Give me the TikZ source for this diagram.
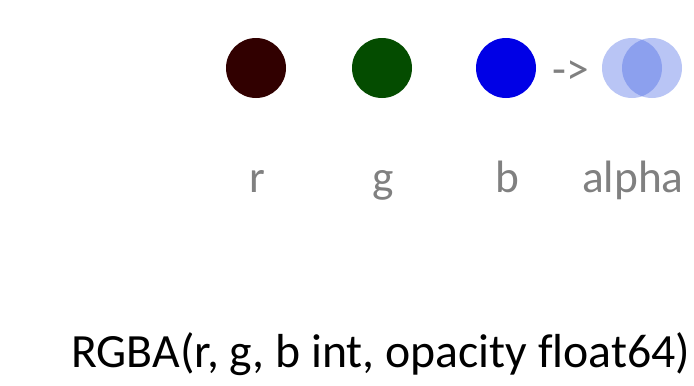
\documentclass[tikz,border=0pt]{standalone}
\usepackage{fontspec}
\setmainfont[Ligatures=NoCommon]{Carlito}
\usepackage{xcolor}
\usepackage{tikz}
\definecolor{redchan}{RGB}{49,0,0}
\definecolor{greenchan}{RGB}{4,76,0}
\definecolor{bluechan}{RGB}{0,0,230}
\definecolor{alphachan}{RGB}{61,94,227}
\definecolor{labelgray}{RGB}{128,128,128}
\def\dotr{30}

\begin{document}
\begin{tikzpicture}[x=0.75pt, y=-0.75pt,
		chan/.style={circle, inner sep=0pt, minimum size=2*\dotr*0.75pt},
		lbl/.style={anchor=base, text=labelgray, font=\fontsize{34}{40}\selectfont, inner sep=0pt}]
	\useasboundingbox (0,0) rectangle (694,386);
	% colour dots
	\node[chan, fill=redchan]   (r)  at (256,68) {};
	\node[chan, fill=greenchan] (g)  at (382,68) {};
	\node[chan, fill=bluechan]  (b)  at (506,68) {};
	\node[lbl, anchor=center]   (to) at (571,73) {->};
	\node[chan, fill=alphachan, fill opacity=0.36] (a1) at (632,68) {};
	\node[chan, fill=alphachan, fill opacity=0.36] (a2) at (652,68) {};
	% channel names
	\node[lbl] (rl) at (257,192) {r};
	\node[lbl] (gl) at (383,192) {g};
	\node[lbl] (bl) at (507,192) {b};
	\node[lbl] (al) at (633,192) {alpha};
	% signature
	\node[anchor=base west, inner sep=0pt, font=\fontsize{35.8}{42}\selectfont] (sig) at (71,367) {RGBA(r, g, b int, opacity float64)};
\end{tikzpicture}
\end{document}
